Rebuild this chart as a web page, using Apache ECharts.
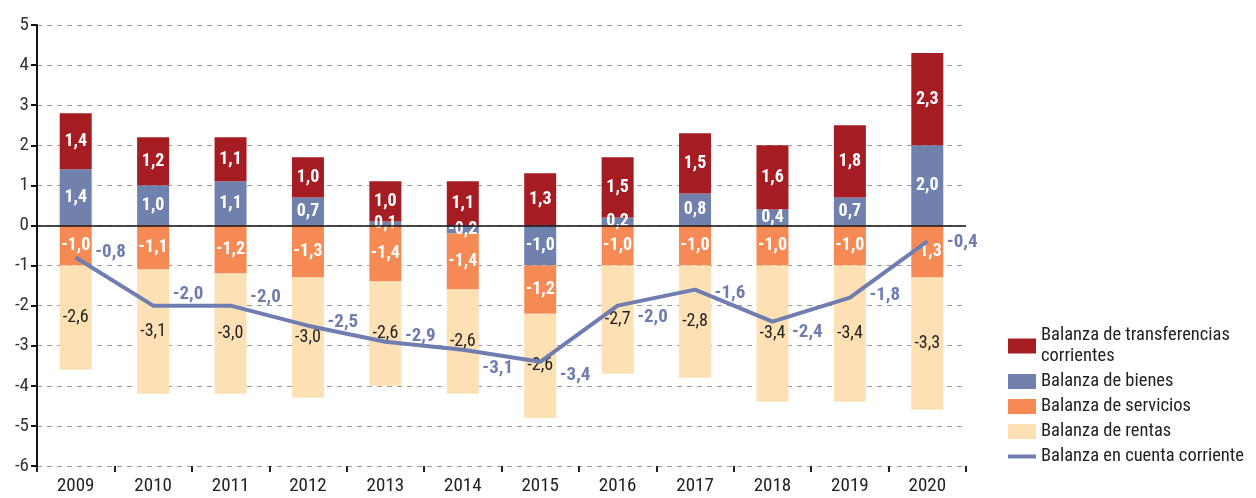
<!DOCTYPE html>
<html>
<head>
<meta charset="utf-8">
<script src="https://cdn.jsdelivr.net/npm/echarts@6/dist/echarts.min.js"></script>
<style>
  html, body { margin: 0; padding: 0; background: #fff; }
  #chart { width: 1256px; height: 498px; }
</style>
</head>
<body>
<div id="chart"></div>
<script>
const years = ['2009', '2010', '2011', '2012', '2013', '2014', '2015', '2016', '2017', '2018', '2019', '2020']
const transferencias = [1.4, 1.2, 1.1, 1.0, 1.0, 1.1, 1.3, 1.5, 1.5, 1.6, 1.8, 2.3]
const bienes = [1.4, 1.0, 1.1, 0.7, 0.1, -0.2, -1.0, 0.2, 0.8, 0.4, 0.7, 2.0]
const servicios = [-1.0, -1.1, -1.2, -1.3, -1.4, -1.4, -1.2, -1.0, -1.0, -1.0, -1.0, -1.3]
const rentas = [-2.6, -3.1, -3.0, -3.0, -2.6, -2.6, -2.6, -2.7, -2.8, -3.4, -3.4, -3.3]
const cuentaCorriente = [-0.8, -2.0, -2.0, -2.5, -2.9, -3.1, -3.4, -2.0, -1.6, -2.4, -1.8, -0.4]

// vertical nudge of each line label, as placed in the original
const lineLabelDy = [-5, -11, -8, -3, -5, 19, 13, 12, 4, 11, -2, 1]

const FONT = '"Liberation Sans Narrow", "Roboto Condensed", "DejaVu Sans Condensed", Roboto, sans-serif'
const fmt = v => v.toFixed(1).replace('.', ',')

function barSeries(name, data, color, labelColor, bold) {
  return {
    name: name,
    type: 'bar',
    stack: 'total',
    barWidth: 32,
    data: data,
    itemStyle: { color: color },
    label: {
      show: true,
      position: 'inside',
      color: labelColor,
      fontFamily: FONT,
      fontSize: 18,
      fontWeight: bold ? 'bold' : 'normal',
      formatter: p => fmt(p.value)
    }
  }
}

let chart = echarts.init(document.getElementById('chart'))
let option = {
  animation: false,
  grid: { left: 37, right: 290, top: 25, bottom: 32 },
  legend: {
    orient: 'vertical',
    left: 1003,
    top: 320,
    itemWidth: 28,
    itemHeight: 15,
    itemGap: 4,
    textStyle: { fontFamily: FONT, fontSize: 18.5, color: '#222', lineHeight: 21 },
    formatter: name => name === 'Balanza de transferencias corrientes' ? 'Balanza de transferencias\ncorrientes' : name,
    data: [
      { name: 'Balanza de transferencias corrientes', icon: 'rect' },
      { name: 'Balanza de bienes', icon: 'rect' },
      { name: 'Balanza de servicios', icon: 'rect' },
      { name: 'Balanza de rentas', icon: 'rect' },
      { name: 'Balanza en cuenta corriente', icon: 'path://M0 0 L28 0 L28 4 L0 4 Z' }
    ]
  },
  xAxis: {
    type: 'category',
    data: years,
    axisLine: { show: false, onZero: false },
    axisTick: { show: true, length: 6, lineStyle: { color: '#222', width: 2 } },
    axisLabel: { fontFamily: FONT, fontSize: 19, color: '#222', margin: 11 }
  },
  yAxis: {
    type: 'value',
    min: -6,
    max: 5,
    interval: 1,
    axisLine: { show: true, lineStyle: { color: '#111', width: 2 } },
    axisTick: { show: true, length: 6, lineStyle: { color: '#111', width: 2 } },
    axisLabel: { fontFamily: FONT, fontSize: 19, color: '#333', margin: 8 },
    splitLine: { lineStyle: { color: '#9a9a9a', type: [5, 5], width: 1 } }
  },
  series: [
    barSeries('Balanza de bienes', bienes, '#7181ad', '#fff', true),
    barSeries('Balanza de transferencias corrientes', transferencias, '#a51c22', '#fff', true),
    barSeries('Balanza de servicios', servicios, '#f68a54', '#fff', true),
    barSeries('Balanza de rentas', rentas, '#fde0b4', '#222', false),
    {
      name: 'Balanza en cuenta corriente',
      type: 'line',
      data: cuentaCorriente.map((v, i) => ({ value: v, label: { offset: [14, lineLabelDy[i]] } })),
      symbol: 'circle',
      symbolSize: 1,
      z: 5,
      lineStyle: { color: '#6f7db1', width: 4 },
      itemStyle: { color: '#6f7db1' },
      label: {
        show: true,
        position: 'right',
        color: '#6f7db1',
        fontFamily: FONT,
        fontSize: 19,
        fontWeight: 'bold',
        formatter: p => fmt(p.value)
      },
      markLine: {
        silent: true,
        symbol: 'none',
        label: { show: false },
        lineStyle: { color: '#111', type: 'solid', width: 1.5 },
        data: [{ yAxis: 0 }]
      }
    }
  ]
}
chart.setOption(option)
window.addEventListener('resize', function() {
  chart.resize()
})
</script>
</body>
</html>
